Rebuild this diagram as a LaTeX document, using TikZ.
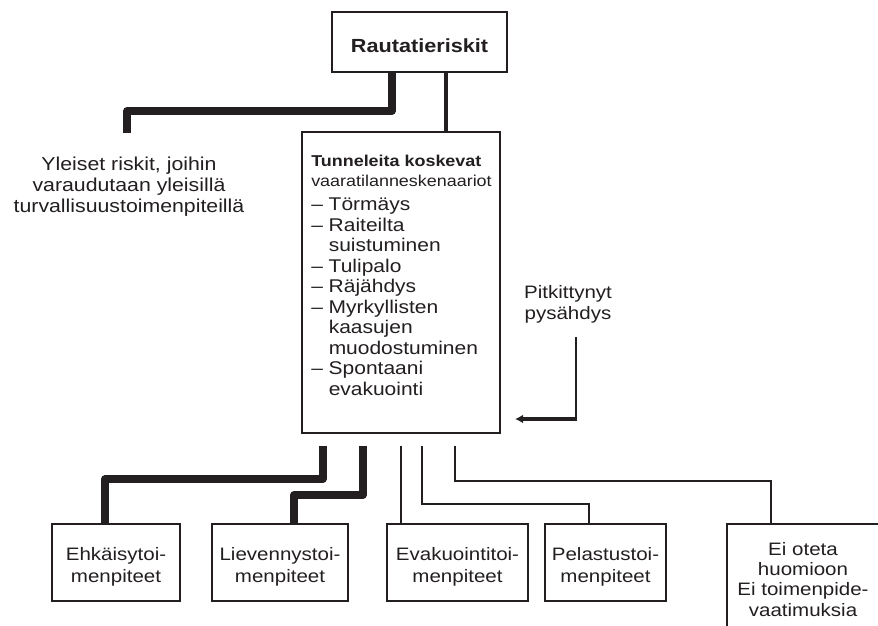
\documentclass[tikz,border=0pt]{standalone}
\usepackage{fontspec}
\setmainfont{Liberation Sans}[FakeStretch=1.14]
\usetikzlibrary{arrows.meta,calc}
\definecolor{ink}{HTML}{231F20}
\newcommand\pxu{0.75pt}
\begin{document}
\begin{tikzpicture}[x=0.75pt,y=-0.75pt,
  box/.style={draw=ink,line width=1.5pt,rectangle,inner sep=0pt},
  heavy/.style={draw=ink,line width=5.6pt,line join=round},
  medium/.style={draw=ink,line width=3pt},
  thin/.style={draw=ink,line width=1.5pt},
  arrowline/.style={draw=ink,line width=2.8pt,-{Latex[length=6pt,width=6.5pt]}},
  txt/.style={text=ink,font=\fontsize{13.5pt}{15.4pt}\selectfont,align=center,inner sep=0pt},
  btxt/.style={txt,font=\fontsize{13.5pt}{16.3pt}\selectfont,anchor=north},
  bottombox/.style={box,minimum height=77*\pxu}]
\clip (0,0) rectangle (878,625);
\fill[white] (0,0) rectangle (878,625);

% top
\node[box,minimum width=175*\pxu,minimum height=60*\pxu,text=ink,
  font=\bfseries\fontsize{14.25pt}{16pt}\selectfont,text height=15.5pt,text depth=0pt] (top) at (419.5,42) {Rautatieriskit};

% main box
\node[box,minimum width=198*\pxu,minimum height=301*\pxu] (main) at (401,282.5) {};
\node[txt,font=\fontsize{13.8pt}{15.4pt}\selectfont,align=left,anchor=north west] (maintext) at (311,154.5)
 {{\bfseries\fontsize{11.8pt}{15.75pt}\selectfont Tunneleita koskevat}\\
  {\fontsize{11.8pt}{15.75pt}\selectfont vaaratilanneskenaariot}\\[2.6pt]
  – Törmäys\\
  – Raiteilta\\
  \phantom{– }suistuminen\\
  – Tulipalo\\
  – Räjähdys\\
  – Myrkyllisten\\
  \phantom{– }kaasujen\\
  \phantom{– }muodostuminen\\
  – Spontaani\\
  \phantom{– }evakuointi};

% general risks
\node[txt,font=\fontsize{14pt}{15.6pt}\selectfont,anchor=north] (yleiset) at (129,157)
 {Yleiset riskit, joihin\\varaudutaan yleisillä\\turvallisuustoimenpiteillä};

% prolonged stop
\node[txt,anchor=north] (pit) at (568,285.5) {Pitkittynyt\\pysähdys};

% bottom boxes
\node[bottombox,minimum width=128*\pxu] (b1) at (116,562.5) {};
\node[bottombox,minimum width=136*\pxu] (b2) at (280,562.5) {};
\node[bottombox,minimum width=141*\pxu] (b3) at (457.5,562.5) {};
\node[bottombox,minimum width=121*\pxu] (b4) at (605.5,562.5) {};
\node[box,minimum width=170*\pxu,minimum height=126*\pxu] (eibox) at (812,587) {};

\node[btxt] (t1) at (116,547) {Ehkäisytoi-\\menpiteet};
\node[btxt] (t2) at (280,547) {Lievennystoi-\\menpiteet};
\node[btxt] (t3) at (457.5,547) {Evakuointitoi-\\menpiteet};
\node[btxt] (t4) at (605.5,547) {Pelastustoi-\\menpiteet};
\node[txt,anchor=north,font=\fontsize{13.5pt}{15.2pt}\selectfont] (t5) at (803,542)
 {Ei oteta\\huomioon\\Ei toimenpide-\\vaatimuksia};

% connectors from the top
\coordinate (ylend) at (127,133);
\draw[heavy] ($(top.south)+(-27.5,0)$) -- ++(0,38) -| (ylend);
\draw[medium] ($(top.south)+(26.5,0)$) -- ($(main.north)+(45,0)$);

% connectors below the main box
\coordinate (s1) at (323,446);
\coordinate (s2) at (363,446);
\coordinate (s3) at (401,446);
\coordinate (s4) at (422,446);
\coordinate (s5) at (455,446);
\draw[heavy] (s1) -- ++(0,33) -| ($(b1.north)+(-11,0)$);
\draw[heavy] (s2) -- ++(0,49) -| ($(b2.north)+(14,0)$);
\draw[thin] (s3) -- ($(b3.north)+(-56.5,0)$);
\draw[thin] (s4) -- ++(0,58) -| ($(b4.north)+(-16.5,0)$);
\draw[thin] (s5) -- ++(0,35) -| ($(eibox.north)+(-41,0)$);

% arrow
\coordinate (p1) at (576,337);
\coordinate (p2) at (515,419);
\draw[thin] (p1) -- ($(p1 |- p2)+(0,1.9)$);
\draw[arrowline] (p1 |- p2) -- (p2);
\end{tikzpicture}
\end{document}
